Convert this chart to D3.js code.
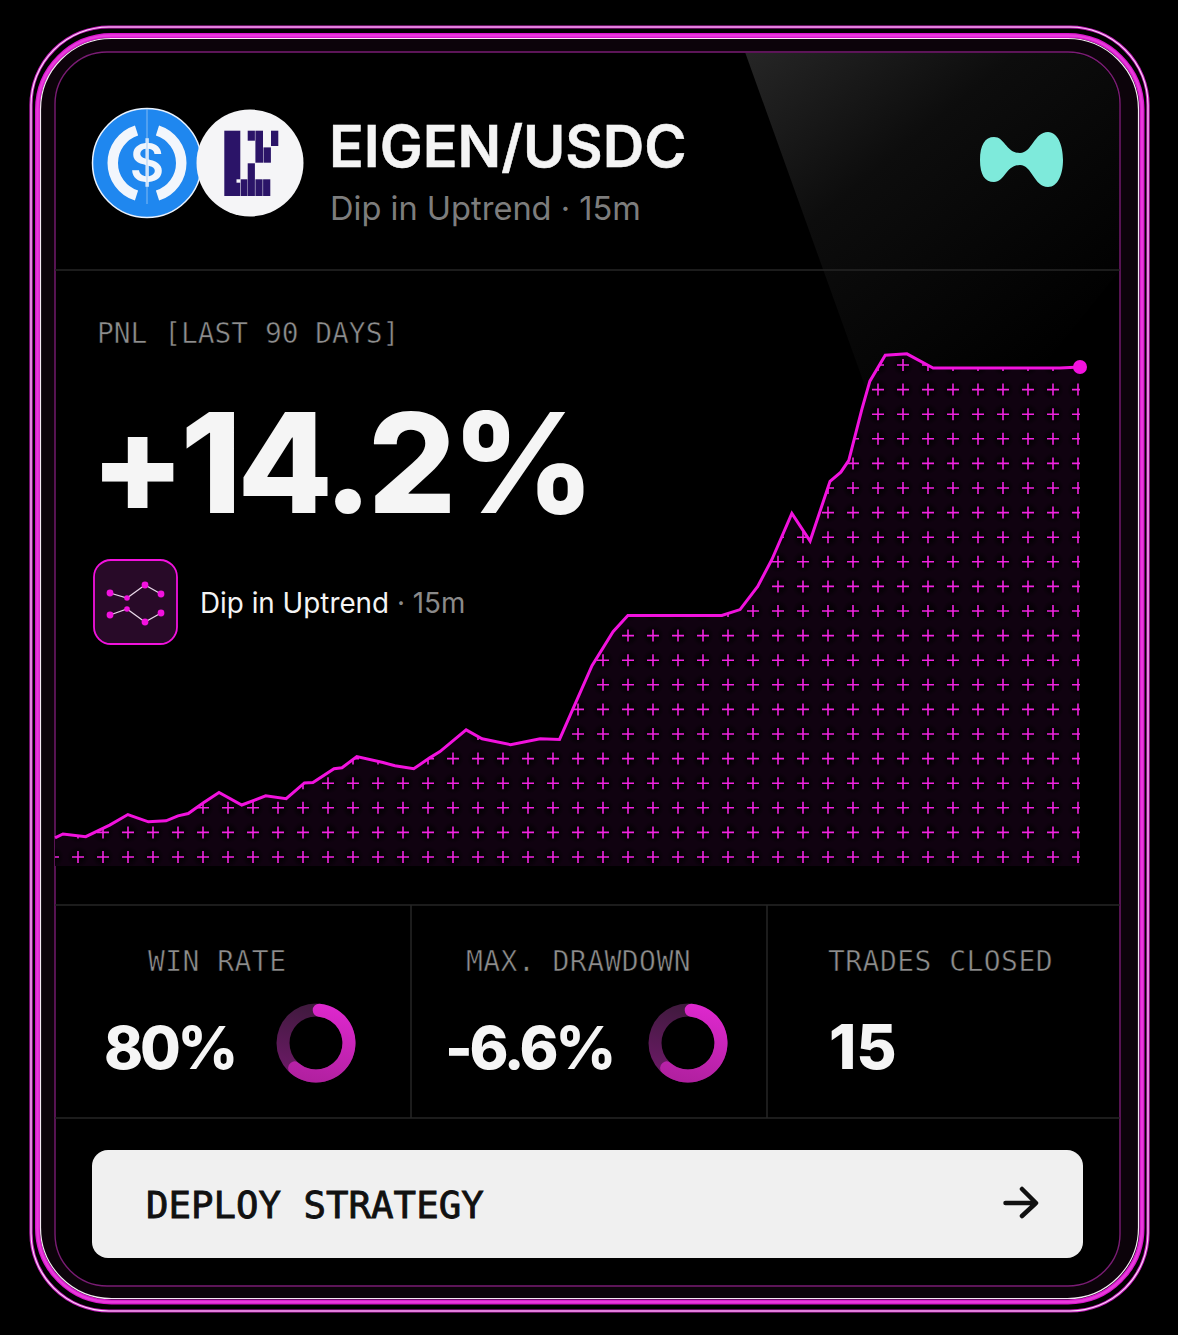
<!DOCTYPE html>
<html>
<head>
<meta charset="utf-8">
<script src="https://cdn.jsdelivr.net/npm/d3@7"></script>
<style>
    html, body { margin: 0; padding: 0; background: #000; }
    svg { display: block; }
    .sans { font-family: Inter, "Noto Sans", sans-serif; }
    .mono { font-family: "DejaVu Sans Mono", "Liberation Mono", monospace; }
    .thin { stroke: #000; stroke-width: 0.55; }
</style>
</head>
<body>
<svg id="card"></svg>
<script>
// PnL curve
const days = [0, 0.7, 2.7, 4.8, 6.4, 8.2, 9.75, 10.8, 11.7, 13, 14.4, 16.4, 18.5, 20.3, 21.9, 22.65, 24.5, 25.2, 26.5,
    28.8, 29.85, 31.5, 32.9, 33.8, 36.1, 37.5, 40, 42.6, 44.3, 47.15, 49, 50.3, 58.55, 60.15, 61.7, 62.95, 64.7, 66.3,
    68.05, 69, 69.7, 70.85, 71.55, 72.9, 74.8, 77.1, 88.25, 90];
const pnl = [-0.09, 0.03, -0.05, 0.3, 0.62, 0.4, 0.43, 0.58, 0.65, 0.97, 1.29, 0.91, 1.19, 1.1, 1.58, 1.59, 2.01, 2.04, 2.38,
    2.2, 2.1, 2.01, 2.34, 2.53, 3.19, 2.92, 2.74, 2.92, 2.9, 5.14, 6.17, 6.66, 6.66, 6.84, 7.54, 8.36, 9.76, 8.92,
    10.73, 11.01, 11.37, 12.92, 13.77, 14.56, 14.6, 14.17, 14.17, 14.2];

const statLabels = ["WIN RATE", "MAX. DRAWDOWN", "TRADES CLOSED"];
const statValues = ["80%", "-6.6%", "15"];
const gaugeFill = [0.66, 0.66, null];

const width = 1178, height = 1335;
const magenta = "#f212de";

const svg = d3.select("#card").attr("width", width).attr("height", height);
svg.append("rect").attr("width", width).attr("height", height).attr("fill", "#000");

const defs = svg.append("defs");

// Sheen in the top right corner
const sheen = defs.append("linearGradient").attr("id", "sheen")
    .attr("x1", 0).attr("y1", 0).attr("x2", 0.75).attr("y2", 0.9);
sheen.append("stop").attr("offset", 0).attr("stop-color", "#262626");
sheen.append("stop").attr("offset", 0.4).attr("stop-color", "#0d0d0d");
sheen.append("stop").attr("offset", 1).attr("stop-color", "#000");

const halo = defs.append("radialGradient").attr("id", "halo");
halo.append("stop").attr("offset", 0.2).attr("stop-color", "#000").attr("stop-opacity", 0.9);
halo.append("stop").attr("offset", 1).attr("stop-color", "#000").attr("stop-opacity", 0);

const bright = defs.append("linearGradient").attr("id", "gaugeBright")
    .attr("x1", 0.6).attr("y1", 0).attr("x2", 0.4).attr("y2", 1);
bright.append("stop").attr("offset", 0).attr("stop-color", "#de28ce");
bright.append("stop").attr("offset", 1).attr("stop-color", "#b0209f");

const track = defs.append("linearGradient").attr("id", "gaugeTrack")
    .attr("x1", 0.5).attr("y1", 0).attr("x2", 0.3).attr("y2", 1);
track.append("stop").attr("offset", 0).attr("stop-color", "#3e1a3c");
track.append("stop").attr("offset", 1).attr("stop-color", "#701a6a");

defs.append("filter").attr("id", "soft").append("feGaussianBlur").attr("stdDeviation", 0.7);

// Neon frame
function frame(x0, y0, x1, y1, r, stroke, w, fill, filter) {
    const el = svg.append("rect")
        .attr("x", x0).attr("y", y0)
        .attr("width", x1 - x0).attr("height", y1 - y0)
        .attr("rx", r).attr("ry", r)
        .attr("fill", fill || "none")
        .attr("stroke", stroke)
        .attr("stroke-width", w);
    if (filter) el.attr("filter", "url(#soft)");
}
frame(40, 38, 1139, 1300, 72, "none", 0, "#0c030a");
frame(31, 27, 1148, 1311, 78, "#c81fc0", 3.2, null, true);
frame(31, 27, 1148, 1311, 78, "#fbe2f8", 1.1);
frame(37.5, 35.5, 1142, 1302, 74, "#d816cc", 5, null, true);
frame(37.5, 35.5, 1142, 1302, 74, "#e83adb", 2.5);
frame(40.5, 38.5, 1138.5, 1298.5, 71, "#f4e8f2", 1.2);
frame(55, 52, 1120, 1286, 52, "#7a1c74", 1.4, "#000");

// Sheen, clipped to the inner card
defs.append("clipPath").attr("id", "innerClip").append("rect")
    .attr("x", 56).attr("y", 53).attr("width", 1063).attr("height", 1232).attr("rx", 51);
svg.append("path")
    .attr("clip-path", "url(#innerClip)")
    .attr("d", "M745,52 L1120,52 L1120,270 L1000,420 L870,400 Z")
    .attr("fill", "url(#sheen)");

// Dividers
const divider = "#262626";
[[55, 270, 1120, 270], [55, 905, 1120, 905], [55, 1118, 1120, 1118], [411, 905, 411, 1118], [767, 905, 767, 1118]]
    .forEach(d => {
        svg.append("line")
            .attr("x1", d[0]).attr("y1", d[1]).attr("x2", d[2]).attr("y2", d[3])
            .attr("stroke", divider).attr("stroke-width", 1.5);
    });

// USDC coin
const usdc = svg.append("g").attr("transform", "translate(147,163)");
usdc.append("circle").attr("r", 54.5).attr("fill", "#1f87ef").attr("stroke", "#e8f2ff").attr("stroke-width", 1.5);
const ringArc = d3.arc().innerRadius(29).outerRadius(39.5);
[[0.31, 2.83], [-2.83, -0.31]].forEach(a => {
    usdc.append("path")
        .attr("d", ringArc({ startAngle: a[0], endAngle: a[1] }))
        .attr("fill", "#f2f6fc");
});
usdc.append("text").attr("class", "sans")
    .attr("text-anchor", "middle").attr("y", 19)
    .attr("font-size", 53).attr("font-weight", 600).attr("fill", "#f2f6fc")
    .text("$");
usdc.append("line").attr("y1", -54).attr("y2", 41).attr("stroke", "#9cc8f5").attr("stroke-width", 0.8);

// EIGEN coin
const eigen = svg.append("g").attr("transform", "translate(250,163)");
eigen.append("circle").attr("r", 53.5).attr("fill", "#f5f5f7");
const eigenBlocks = [
    [-25.7, -32.3, 16, 65.3], [-9.2, 16.3, 6.6, 16.7], [-2.3, 0.3, 7.2, 32.7], [5.4, 16.3, 7.2, 16.7], [13.1, 16.3, 7.2, 16.7],
    [-2.3, -32.3, 7.2, 10], [5.4, -32.3, 7.6, 32], [13.5, -15.6, 7.4, 15.3], [21, -32.3, 7.3, 15.3]
];
eigen.selectAll("rect").data(eigenBlocks).join("rect")
    .attr("x", d => d[0]).attr("y", d => d[1])
    .attr("width", d => d[2]).attr("height", d => d[3])
    .attr("fill", "#2b1468");
eigen.append("rect").attr("x", -13.5).attr("y", 16.3).attr("width", 3.8).attr("height", 3.4).attr("fill", "#f5f5f7");

// Header text
svg.append("text").attr("class", "sans")
    .attr("x", 329).attr("y", 167)
    .attr("font-size", 57.5).attr("font-weight", 600).attr("fill", "#f4f4f4")
    .attr("stroke", "#f4f4f4").attr("stroke-width", 0.5)
    .text("EIGEN/USDC");
svg.append("text").attr("class", "sans")
    .attr("x", 330).attr("y", 220)
    .attr("font-size", 32.6).attr("fill", "#7d7d7d")
    .text("Dip in Uptrend · 15m");

// Teal logo
svg.append("path")
    .attr("d", "M980,160 C980,145 985,137 994,137 C1005,137 1006,153 1020,153 C1032,153 1034,132 1048,132 C1058,132 1063,146 1063,160 C1063,174 1058,187 1048,187 C1034,187 1032,165 1020,165 C1006,165 1005,182 994,182 C985,182 980,175 980,160 Z")
    .attr("fill", "#7eeadb");

// PnL heading
svg.append("text").attr("class", "mono thin")
    .attr("x", 97).attr("y", 343)
    .attr("font-size", 27.9).attr("fill", "#8e8e8e")
    .text("PNL [LAST 90 DAYS]");
svg.append("text").attr("class", "sans")
    .attr("x", 90).attr("y", 513)
    .attr("font-size", 139).attr("font-weight", 800).attr("letter-spacing", -4.7).attr("fill", "#f5f5f5")
    .text("+14.2%");

// Strategy badge
const badge = svg.append("g").attr("transform", "translate(94,560)");
badge.append("rect").attr("width", 83).attr("height", 84).attr("rx", 17)
    .attr("fill", "#280a28").attr("stroke", magenta).attr("stroke-width", 1.8);
const badgeChains = [
    [[16, 33], [33, 38], [51, 25], [67, 34]],
    [[16, 55], [33, 49], [51, 62], [67, 53]]
];
badgeChains.forEach(chain => {
    badge.append("path")
        .attr("d", d3.line()(chain))
        .attr("fill", "none").attr("stroke", "#e8d8e8").attr("stroke-width", 1.2);
    badge.selectAll(null).data(chain).join("circle")
        .attr("cx", d => d[0]).attr("cy", d => d[1])
        .attr("r", (d, i) => i === 1 ? 2.8 : 3.4)
        .attr("fill", magenta);
});
const badgeText = svg.append("text").attr("class", "sans")
    .attr("x", 200).attr("y", 613).attr("font-size", 27.8);
badgeText.append("tspan").attr("fill", "#f4f4f4").text("Dip in Uptrend");
badgeText.append("tspan").attr("fill", "#8a8a8a").text(" · 15m");

// Chart
const series = days.map((d, i) => ({ day: d, value: pnl[i] }));

const x = d3.scaleLinear().domain([0, 90]).range([55, 1080]);
const y = d3.scaleLinear().domain([0, 14.2]).range([835, 367]);
const floorY = 866;

const area = d3.area()
    .x(d => x(d.day))
    .y0(floorY)
    .y1(d => y(d.value));
const line = d3.line()
    .x(d => x(d.day))
    .y(d => y(d.value));

defs.append("clipPath").attr("id", "areaClip").append("path").attr("d", area(series));

const chart = svg.append("g");
chart.append("path").attr("d", area(series)).attr("fill", "#100210");

// Plus grid, clipped to the area under the curve
const gridCols = d3.scaleLinear().domain([0, 41]).range([53, 1078]);
const gridRows = d3.scaleLinear().domain([0, 20]).range([857, 365]);
const crosses = d3.cross(d3.range(42), d3.range(21));
const grid = chart.append("g").attr("clip-path", "url(#areaClip)");

grid.selectAll("circle").data(crosses).join("circle")
    .attr("cx", d => gridCols(d[0]))
    .attr("cy", d => gridRows(d[1]))
    .attr("r", 11)
    .attr("fill", "url(#halo)");

grid.selectAll("path").data(crosses).join("path")
    .attr("d", d => {
        const cx = gridCols(d[0]), cy = gridRows(d[1]);
        return `M${cx - 6},${cy}H${cx + 6}M${cx},${cy - 6}V${cy + 6}`;
    })
    .attr("stroke", "#f024e0")
    .attr("stroke-width", 1.6)
    .attr("fill", "none");

chart.append("path")
    .attr("d", line(series))
    .attr("fill", "none")
    .attr("stroke", magenta)
    .attr("stroke-width", 3)
    .attr("stroke-linejoin", "miter");

const last = series[series.length - 1];
chart.append("circle")
    .attr("cx", x(last.day)).attr("cy", y(last.value))
    .attr("r", 7).attr("fill", magenta);

// Stats row
const labelX = [148, 466, 828];
const valueX = [104, 445, 829];
const gaugeX = [316, 688];

statLabels.forEach((label, i) => {
    svg.append("text").attr("class", "mono thin")
        .attr("x", labelX[i]).attr("y", 971)
        .attr("font-size", 28).attr("letter-spacing", 0.45).attr("fill", "#8e8e8e")
        .text(label);
    svg.append("text").attr("class", "sans")
        .attr("x", valueX[i]).attr("y", 1069)
        .attr("font-size", i === 2 ? 62 : 59).attr("font-weight", 800)
        .attr("letter-spacing", i === 2 ? 0 : -3.2).attr("fill", "#f5f5f5")
        .text(statValues[i]);
    if (gaugeFill[i] === null) return;
    const g = svg.append("g").attr("transform", `translate(${gaugeX[i]},1043)`);
    const angle = d3.scaleLinear().domain([0, 1]).range([-0.1, 2 * Math.PI - 0.1]);
    const arc = d3.arc().innerRadius(26.5).outerRadius(39.5);
    g.append("path")
        .attr("d", arc({ startAngle: 0, endAngle: 2 * Math.PI }))
        .attr("fill", "url(#gaugeTrack)");
    g.append("path")
        .attr("d", arc.cornerRadius(6.5)({ startAngle: angle(0), endAngle: angle(gaugeFill[i]) }))
        .attr("fill", "url(#gaugeBright)");
});

// Deploy button
svg.append("rect")
    .attr("x", 92).attr("y", 1150).attr("width", 991).attr("height", 108).attr("rx", 16)
    .attr("fill", "#f0f0f0");
svg.append("text").attr("class", "mono")
    .attr("x", 146).attr("y", 1218)
    .attr("font-size", 37.4).attr("fill", "#111")
    .attr("stroke", "#111").attr("stroke-width", 0.9)
    .text("DEPLOY STRATEGY");
svg.append("path")
    .attr("d", "M1005.5,1203H1035M1022,1189L1036,1203L1022,1216")
    .attr("fill", "none").attr("stroke", "#111").attr("stroke-width", 4.5)
    .attr("stroke-linecap", "round").attr("stroke-linejoin", "round");
</script>
</body>
</html>
